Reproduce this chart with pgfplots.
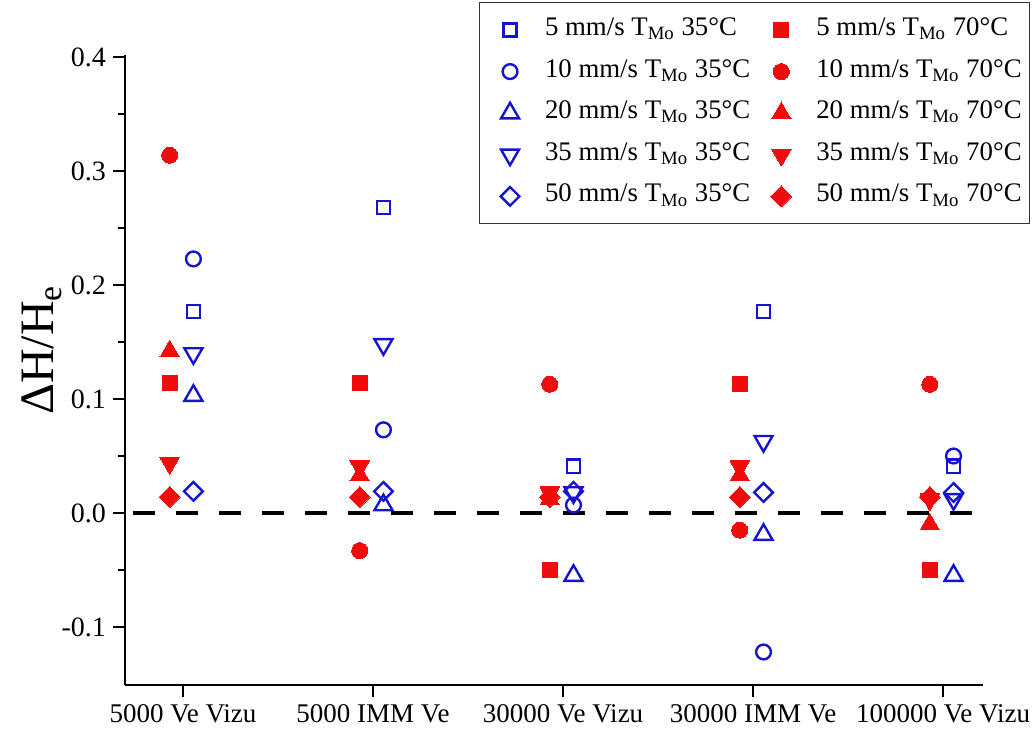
\documentclass[border=0pt]{standalone}
\usepackage{fontspec}
\setmainfont{Liberation Serif}
\usepackage{pgfplots}
\pgfplotsset{compat=1.18}
\definecolor{cblue}{RGB}{20,20,210}
\definecolor{cred}{RGB}{240,12,12}
\pgfplotsset{mk/.style={only marks,
  legend image code/.code={\draw[##1] plot coordinates {(0pt,0pt)}; \path[draw=none, fill=none] (-12.5pt,0pt) -- (8pt,0pt);}}}
\begin{document}
\begin{tikzpicture}
\begin{axis}[
  name=ax,
  scale only axis,
  width=429pt, height=315pt,
  xmin=-0.305, xmax=4.21,
  ymin=-0.151, ymax=0.402,
  clip=false,
  axis x line*=bottom, axis y line*=left,
  axis line style={line width=1pt, black},
  tick align=outside,
  tick style={line width=1pt, black},
  major tick length=6pt, minor tick length=3.5pt,
  xtick={0,1,2,3,4},
  xticklabels={5000 Ve Vizu, 5000 IMM Ve, 30000 Ve Vizu, 30000 IMM Ve, 100000 Ve Vizu},
  ytick={-0.1,0,0.1,0.2,0.3,0.4},
  minor y tick num=1,
  yticklabel style={/pgf/number format/fixed, /pgf/number format/fixed zerofill, /pgf/number format/precision=1, font=\fontsize{14}{16}\selectfont},
  /pgf/number format/assume math mode=true,
  xticklabel style={font=\fontsize{13.5}{16}\selectfont},
  ylabel={ΔH/H\textsubscript{e}},
  ylabel style={font=\fontsize{24}{28}\selectfont, at={(axis description cs:-0.097,0.532)}, anchor=center, rotate=0},
  legend columns=2,
  legend style={at={(1.0548,1.084)}, anchor=north east, draw=black!80,
    font=\fontsize{13.4}{16}\selectfont,
    nodes={inner sep=1pt, text height=9.5pt, text depth=4pt},
    row sep=5.3pt, inner xsep=3pt, inner ysep=6pt,
    /tikz/every odd column/.append style={column sep=8.5pt},
    /tikz/every even column/.append style={column sep=2pt}},
  legend cell align=left,
]
% 5 mm/s
\addplot[mk, mark=square, mark size=3.3pt, mark options={draw=cblue, line width=1.2pt, fill=none}]
  coordinates {(0.055,0.177) (1.055,0.268) (2.055,0.041) (3.055,0.177) (4.055,0.041)};
\addlegendentry{5 mm/s T\textsubscript{Mo} 35°C}
\addplot[mk, mark=square*, mark size=3.8pt, mark options={draw=cred, fill=cred, line width=0pt}]
  coordinates {(-0.07,0.114) (0.93,0.114) (1.93,-0.050) (2.93,0.113) (3.93,-0.050)};
\addlegendentry{5 mm/s T\textsubscript{Mo} 70°C}
% 10 mm/s
\addplot[mk, mark=o, mark size=3.7pt, mark options={draw=cblue, line width=1.2pt, fill=none}]
  coordinates {(0.055,0.223) (1.055,0.073) (2.055,0.007) (3.055,-0.122) (4.055,0.050)};
\addlegendentry{10 mm/s T\textsubscript{Mo} 35°C}
\addplot[mk, mark=*, mark size=4pt, mark options={draw=cred, fill=cred, line width=0pt}]
  coordinates {(-0.07,0.314) (0.93,-0.033) (1.93,0.113) (2.93,-0.015) (3.93,0.113)};
\addlegendentry{10 mm/s T\textsubscript{Mo} 70°C}
% 20 mm/s
\addplot[mk, mark=triangle, mark size=5.2pt, mark options={draw=cblue, line width=1.2pt, fill=none}]
  coordinates {(0.055,0.103) (1.055,0.007) (2.055,-0.055) (3.055,-0.019) (4.055,-0.055)};
\addlegendentry{20 mm/s T\textsubscript{Mo} 35°C}
\addplot[mk, mark=triangle*, mark size=5.6pt, mark options={draw=cred, fill=cred, line width=0pt}]
  coordinates {(-0.07,0.142) (0.93,0.033) (1.93,0.012) (2.93,0.033) (3.93,-0.010)};
\addlegendentry{20 mm/s T\textsubscript{Mo} 70°C}
% 35 mm/s
\addplot[mk, mark=triangle, mark size=5.2pt, mark options={draw=cblue, line width=1.2pt, fill=none, rotate=180}]
  coordinates {(0.055,0.140) (1.055,0.148) (2.055,0.018) (3.055,0.063) (4.055,0.012)};
\addlegendentry{35 mm/s T\textsubscript{Mo} 35°C}
\addplot[mk, mark=triangle*, mark size=5.6pt, mark options={draw=cred, fill=cred, line width=0pt, rotate=180}]
  coordinates {(-0.07,0.044) (0.93,0.041) (1.93,0.018) (2.93,0.041) (3.93,0.012)};
\addlegendentry{35 mm/s T\textsubscript{Mo} 70°C}
% 50 mm/s
\addplot[mk, mark=square, mark size=3.3pt, mark options={draw=cblue, line width=1.2pt, fill=none, rotate=45}]
  coordinates {(0.055,0.019) (1.055,0.019) (2.055,0.019) (3.055,0.018) (4.055,0.018)};
\addlegendentry{50 mm/s T\textsubscript{Mo} 35°C}
\addplot[mk, mark=square*, mark size=3.7pt, mark options={draw=cred, fill=cred, line width=0pt, rotate=45}]
  coordinates {(-0.07,0.014) (0.93,0.014) (1.93,0.014) (2.93,0.014) (3.93,0.014)};
\addlegendentry{50 mm/s T\textsubscript{Mo} 70°C}
% zero line
\addplot[black, line width=2pt, dash pattern=on 11pt off 10.5pt, forget plot]
  coordinates {(-0.263,0) (4.2,0)};
\end{axis}
\pgfresetboundingbox
\path ([xshift=-62.5pt,yshift=-23pt]ax.south west) rectangle ([xshift=26.5pt,yshift=27.5pt]ax.north east);
\end{tikzpicture}
\end{document}
